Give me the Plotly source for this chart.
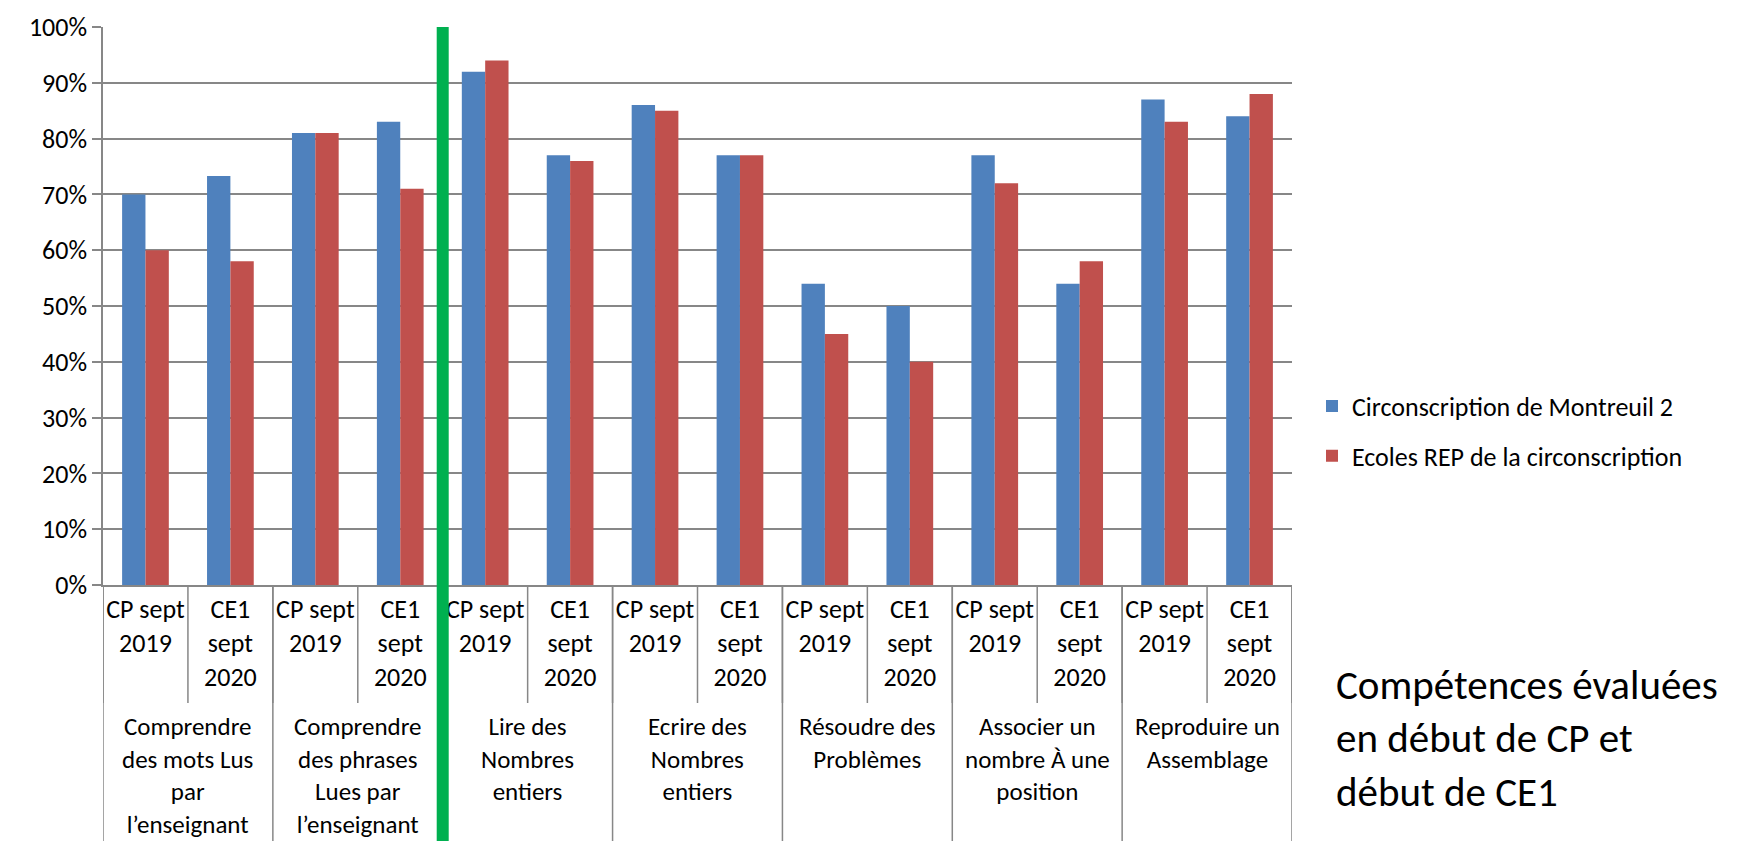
import plotly.graph_objects as go

sub_labels = ["CP sept<br>2019", "CE1<br>sept<br>2020"]
groups = [
    "Comprendre<br>des mots Lus<br>par<br>l’enseignant",
    "Comprendre<br>des phrases<br>Lues par<br>l’enseignant",
    "Lire des<br>Nombres<br>entiers",
    "Ecrire des<br>Nombres<br>entiers",
    "Résoudre des<br>Problèmes",
    "Associer un<br>nombre À une<br>position",
    "Reproduire un<br>Assemblage",
]
series_names = ["Circonscription de Montreuil 2", "Ecoles REP de la circonscription"]
montreuil = [70, 73.3, 81, 83, 92, 77, 86, 77, 54, 50, 77, 54, 87, 84]
rep = [60, 58, 81, 71, 94, 76, 85, 77, 45, 40, 72, 58, 83, 88]
y_ticks = [0, 10, 20, 30, 40, 50, 60, 70, 80, 90, 100]
side_title = "Compétences évaluées<br>en début de CP et<br>début de CE1"

FONT = "Carlito, Calibri, Lato, sans-serif"
GRID = "#878787"

W, H = 1740, 841
L, R, T, B = 95, 1284, 19, 577
PH = B - T


def py(pix):
    return (B - pix) / PH


n = len(groups) * len(sub_labels)
xs = list(range(n))
tick_text = [sub_labels[i % 2] for i in xs]

fig = go.Figure()
fig.add_trace(go.Bar(x=xs, y=montreuil, name=series_names[0],
                     marker=dict(color="#4F81BD", line=dict(width=0)),
                     legendgroup="a"))
fig.add_trace(go.Bar(x=xs, y=rep, name=series_names[1],
                     marker=dict(color="#C0504D", line=dict(width=0)),
                     legendgroup="b"))

shapes = []
# sub-category dividers
for k in range(n + 1):
    shapes.append(dict(type="line", xref="x", yref="paper", x0=k - 0.5, x1=k - 0.5,
                       y0=0, y1=py(695), line=dict(color=GRID, width=1.5), layer="below"))
# group dividers
for g in range(len(groups) + 1):
    shapes.append(dict(type="line", xref="x", yref="paper", x0=2 * g - 0.5, x1=2 * g - 0.5,
                       y0=0, y1=py(845), line=dict(color=GRID, width=1.5), layer="below"))
# green separator
shapes.append(dict(type="line", xref="x", yref="paper", x0=3.5, x1=3.5,
                   y0=py(834), y1=1.0, line=dict(color="#00B050", width=12)))

annotations = []
for g, lab in enumerate(groups):
    annotations.append(dict(x=2 * g + 0.5, y=py(701), xref="x", yref="paper",
                            text=lab, showarrow=False, yanchor="top", xanchor="center",
                            align="center", font=dict(family=FONT, size=25, color="#000")))
annotations.append(dict(x=1.0, xanchor="left", xshift=(1326 - R), y=py(730),
                        yref="paper", xref="paper", yanchor="middle", align="left",
                        text=side_title, showarrow=False,
                        font=dict(family=FONT, size=41, color="#000")))

fig.update_layout(
    width=W, height=H,
    margin=dict(l=L, r=W - R, t=T, b=H - B, autoexpand=False),
    paper_bgcolor="white", plot_bgcolor="white",
    barmode="group", bargap=0.45, bargroupgap=0,
    font=dict(family=FONT, size=26, color="#000"),
    shapes=shapes, annotations=annotations,
    legend=dict(x=(1304 - L) / (R - L), xanchor="left", y=py(423), yanchor="middle",
                font=dict(family=FONT, size=26, color="#000"),
                tracegroupgap=13, itemwidth=30, bgcolor="rgba(0,0,0,0)"),
    showlegend=True,
)
fig.update_xaxes(type="linear", range=[-0.5, n - 0.5], tickvals=xs, ticktext=tick_text,
                 showgrid=False, zeroline=False, showline=True, linecolor=GRID, linewidth=1.5,
                 ticks="", tickfont=dict(family=FONT, size=26, color="#000"))
fig.update_yaxes(range=[0, 100], tickvals=y_ticks, ticktext=[f"{v}%" for v in y_ticks],
                 showgrid=True, gridcolor=GRID, gridwidth=1.5, zeroline=False,
                 showline=True, linecolor=GRID, linewidth=1.5,
                 ticks="outside", ticklen=9, tickcolor=GRID, tickwidth=1.5,
                 tickfont=dict(family=FONT, size=26, color="#000"))

fig.write_html("out.html")
